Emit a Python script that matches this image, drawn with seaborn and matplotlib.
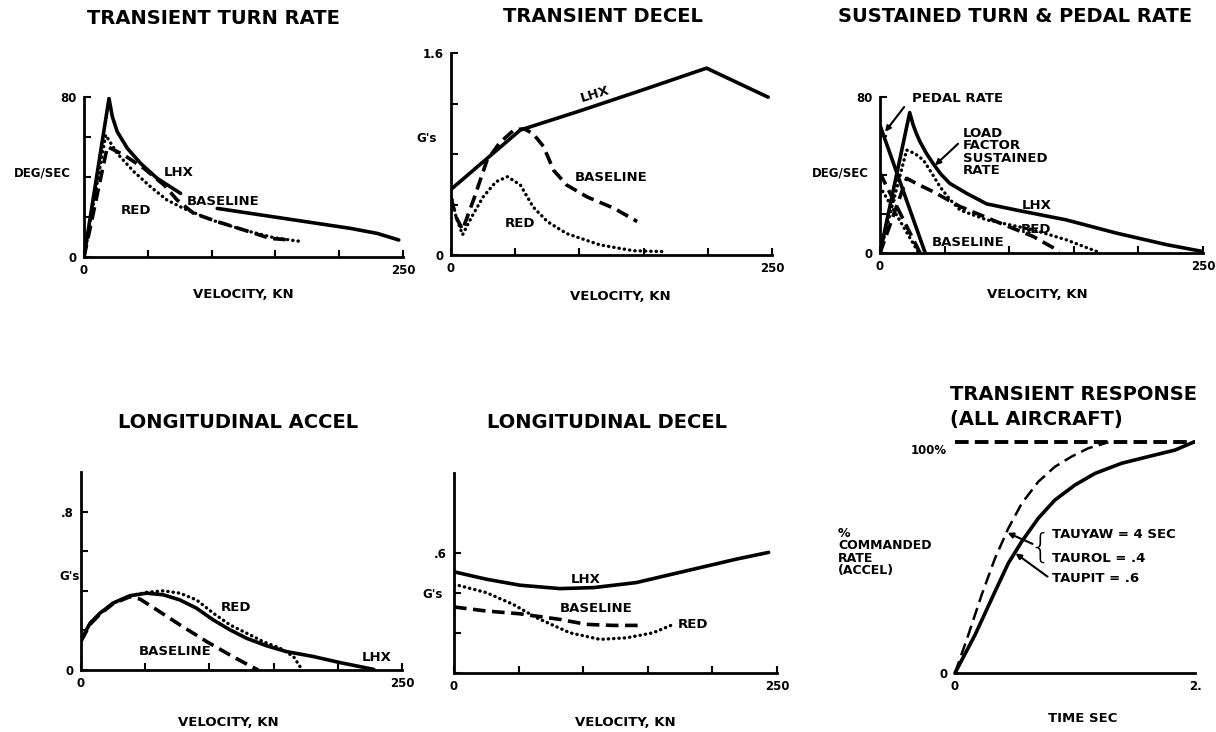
import numpy as np
import matplotlib
matplotlib.use("Agg")
import matplotlib.pyplot as plt
import seaborn as sns

sns.set_theme(style="white")
plt.rcParams['font.family'] = ['DejaVu Sans']
plt.rcParams['font.weight'] = 'bold'
plt.rcParams['text.color'] = 'black'
plt.rcParams['xtick.color'] = 'black'
plt.rcParams['ytick.color'] = 'black'

W, H = 1216, 732

# ---- data ----
# transient turn rate (deg/sec vs knots)
ttr_lhx_x = [0, 19.6, 22.2, 26, 34, 44.4, 57.4, 75.7]
ttr_lhx_y = [0, 79.3, 70.2, 62.7, 54.3, 46.8, 39.3, 31.8]
ttr_lhx2_x = [104.4, 130.5, 156.7, 182.8, 208.9, 229.8, 246.7]
ttr_lhx2_y = [24.3, 21.8, 19.3, 16.8, 14.3, 11.8, 8.5]
ttr_base_x = [0, 18.3, 31.3, 47, 62.7, 73, 86, 104.4, 125.3, 146, 162]
ttr_base_y = [0, 55.2, 51, 44.3, 36, 28.5, 21.8, 17.7, 13.5, 9.3, 8.5]
ttr_red_x = [0, 17, 26, 39, 52, 65, 78, 100, 125, 150, 171]
ttr_red_y = [0, 61, 51.8, 42.7, 35.2, 28.5, 24.3, 18.5, 13.5, 9.5, 7.7]

# transient decel (G's vs knots)
td_lhx_x = [0, 54, 100, 150, 199, 247]
td_lhx_y = [0.52, 0.99, 1.14, 1.31, 1.48, 1.25]
td_base_x = [0, 4, 9, 18, 28, 38, 49, 57, 64, 72, 80, 90, 106, 127, 145]
td_base_y = [0.45, 0.3, 0.2, 0.45, 0.75, 0.89, 0.99, 1.0, 0.96, 0.86, 0.67, 0.555, 0.46, 0.37, 0.265]
td_red_x = [0, 4, 9, 16, 25, 35, 44, 54, 64, 75, 90, 116, 142, 168]
td_red_y = [0.48, 0.3, 0.16, 0.3, 0.46, 0.58, 0.62, 0.555, 0.38, 0.265, 0.17, 0.08, 0.034, 0.026]

# sustained turn & pedal rate
st_pedal_lhx_x = [0, 35]
st_pedal_lhx_y = [65.5, 0]
st_pedal_base_x = [0, 31]
st_pedal_base_y = [41, 0]
st_pedal_red_x = [0, 30]
st_pedal_red_y = [34, 0]
st_lhx_x = [0, 23, 25.5, 28, 31, 36, 41, 47, 54, 67, 82.5, 105.7, 144, 183, 221.6, 248.7]
st_lhx_y = [0, 72, 66, 61.5, 57, 51, 46, 40.5, 35.7, 30.6, 25.2, 22, 17, 10.2, 4.3, 0.9]
st_red_x = [0, 20.6, 27, 33.5, 40, 46.4, 54, 62, 82.5, 100, 118.5, 144, 167.5]
st_red_y = [0, 52.8, 51, 47.7, 41, 34, 27.5, 22, 17, 14.5, 11.9, 6.8, 0.85]
st_base_x = [0, 20.6, 30, 41, 62, 93, 118.5, 139]
st_base_y = [0, 38.3, 35, 31.5, 23.8, 15.3, 8.5, 0.85]

# longitudinal accel
la_lhx_x = [0, 7, 14.8, 25, 38, 51, 64, 77, 90, 103, 116, 129, 144.7, 160, 181, 202, 220, 228]
la_lhx_y = [0.15, 0.236, 0.287, 0.338, 0.375, 0.388, 0.38, 0.354, 0.312, 0.253, 0.203, 0.16,
            0.122, 0.093, 0.068, 0.037, 0.0135, 0.003]
la_red_x = [0, 7, 14.8, 25, 38, 51, 64, 77, 90, 103, 116, 129, 142, 155, 165.5, 172]
la_red_y = [0.15, 0.236, 0.287, 0.338, 0.375, 0.392, 0.4, 0.388, 0.354, 0.287, 0.228, 0.186,
            0.143, 0.11, 0.068, 0.003]
la_base_x = [0, 7, 14.8, 25, 38, 46, 59, 77, 98, 116, 129, 138]
la_base_y = [0.145, 0.23, 0.282, 0.335, 0.37, 0.358, 0.304, 0.228, 0.143, 0.076, 0.03, 0.0]

# longitudinal decel
ld_lhx_x = [0, 25, 51, 82, 108, 141, 180, 219, 243.5]
ld_lhx_y = [0.506, 0.469, 0.439, 0.422, 0.427, 0.452, 0.511, 0.57, 0.603]
ld_base_x = [0, 25, 51, 82, 102.6, 123, 145]
ld_base_y = [0.33, 0.31, 0.296, 0.268, 0.243, 0.238, 0.238]
ld_red_x = [0, 25, 45.8, 63.9, 89.7, 113, 133.7, 154, 169.8]
ld_red_y = [0.444, 0.402, 0.343, 0.276, 0.201, 0.168, 0.176, 0.201, 0.243]

# transient response (% commanded vs sec)
tr_fast_x = [0, 0.111, 0.222, 0.333, 0.444, 0.556, 0.694, 0.833, 0.972, 1.111, 1.278]
tr_fast_y = [0, 16.5, 33.8, 49.6, 62.6, 73.4, 82.8, 89.3, 93.7, 97.3, 99.9]
tr_slow_x = [0, 0.167, 0.333, 0.444, 0.556, 0.694, 0.833, 1.0, 1.167, 1.389, 1.667, 1.833, 1.986]
tr_slow_y = [0, 16.5, 35.2, 47.5, 56.9, 67, 74.9, 81.4, 86.4, 90.8, 94.4, 96.5, 99.9]
tr_cmd_x = [0, 2]
tr_cmd_y = [100, 100]

fig = plt.figure(figsize=(W / 100, H / 100), dpi=100)

SOLID = dict(color='black', lw=2.6, linestyle='-')
DASH = dict(color='black', lw=2.6, linestyle=(0, (3.5, 1.8)))
DOT = dict(color='black', lw=2.4, linestyle=(0, (0.1, 1.5)), dash_capstyle='round')


def make_ax(l, r, t, b):
    return fig.add_axes([l / W, 1 - b / H, (r - l) / W, (b - t) / H])


def ftext(x, y, s, size=8, **kw):
    kw.setdefault('ha', 'center')
    kw.setdefault('va', 'center')
    fig.text(x / W, 1 - y / H, s, fontsize=size, fontweight='bold', **kw)


def line(ax, xs, ys, st):
    sns.lineplot(x=xs, y=ys, ax=ax, sort=False, estimator=None, **st)


def label(ax, x, y, s, **kw):
    ax.text(x, y, s, fontsize=9.5, fontweight='bold', ha='center', va='center', **kw)


def style_ax(ax, xmax, ymax, yticks, ylabels):
    ax.set_facecolor('none')
    for s in ['top', 'right']:
        ax.spines[s].set_visible(False)
    for s in ['left', 'bottom']:
        ax.spines[s].set_linewidth(2)
        ax.spines[s].set_color('black')
    ax.set_xlim(0, xmax)
    ax.set_ylim(0, ymax)
    ax.set_xticks(np.linspace(0, xmax, 6))
    ax.set_xticklabels(['0', '', '', '', '', str(xmax)])
    ax.set_yticks(yticks)
    ax.set_yticklabels(ylabels)
    ax.tick_params(bottom=True, left=True, direction='in', length=5, width=1.5,
                   labelsize=8.5, pad=5)
    ax.grid(False)


TITLE = 14
AXL = 9.5
YL = 8.5

# ---- panel 1 ----
ax1 = make_ax(84, 403, 97, 257)
line(ax1, ttr_lhx_x, ttr_lhx_y, SOLID)
line(ax1, ttr_lhx2_x, ttr_lhx2_y, SOLID)
line(ax1, ttr_base_x, ttr_base_y, DASH)
line(ax1, ttr_red_x, ttr_red_y, DOT)
style_ax(ax1, 250, 80, [0, 20, 40, 60, 80], ['0', '', '', '', '80'])
label(ax1, 74, 42, 'LHX')
label(ax1, 109, 27.6, 'BASELINE')
label(ax1, 41, 23, 'RED')
ftext(213, 18, 'TRANSIENT TURN RATE', size=TITLE)
ftext(42, 173, 'DEG/SEC', size=YL)
ftext(243, 295, 'VELOCITY, KN', size=AXL)

# ---- panel 2 ----
ax2 = make_ax(451, 772, 53, 255)
line(ax2, td_lhx_x, td_lhx_y, SOLID)
line(ax2, td_base_x, td_base_y, DASH)
line(ax2, td_red_x, td_red_y, DOT)
style_ax(ax2, 250, 1.6, [0, 0.4, 0.8, 1.2, 1.6], ['0', '', '', '', '1.6'])
label(ax2, 112, 1.27, 'LHX', rotation=17)
label(ax2, 125, 0.61, 'BASELINE')
label(ax2, 54, 0.25, 'RED')
ftext(603, 17, 'TRANSIENT DECEL', size=TITLE)
ftext(427, 138, "G's", size=YL)
ftext(620, 296, 'VELOCITY, KN', size=AXL)

# ---- panel 3 ----
ax3 = make_ax(880, 1203, 97, 253)
line(ax3, st_pedal_lhx_x, st_pedal_lhx_y, SOLID)
line(ax3, st_pedal_base_x, st_pedal_base_y, DASH)
line(ax3, st_pedal_red_x, st_pedal_red_y, DOT)
line(ax3, st_lhx_x, st_lhx_y, SOLID)
line(ax3, st_base_x, st_base_y, DASH)
line(ax3, st_red_x, st_red_y, DOT)
style_ax(ax3, 250, 80, [0, 20, 40, 60, 80], ['0', '', '', '', '80'])
ax3.annotate('', xy=(2.6, 61), xytext=(20, 76),
             arrowprops=dict(arrowstyle='-|>', color='black', lw=1.5, mutation_scale=8))
ax3.annotate('', xy=(41, 44), xytext=(62, 57),
             arrowprops=dict(arrowstyle='-|>', color='black', lw=1.5, mutation_scale=8))
label(ax3, 121, 24.5, 'LHX')
label(ax3, 121, 12.3, 'RED')
label(ax3, 68, 5.5, 'BASELINE')
ftext(958, 98, 'PEDAL RATE', size=AXL)
ftext(963, 152, 'LOAD\nFACTOR\nSUSTAINED\nRATE', size=AXL, ha='left', linespacing=0.95)
ftext(1015, 17, 'SUSTAINED TURN & PEDAL RATE', size=TITLE)
ftext(840, 173, 'DEG/SEC', size=YL)
ftext(1037, 295, 'VELOCITY, KN', size=AXL)

# ---- panel 4 ----
ax4 = make_ax(81, 402, 472, 670)
line(ax4, la_lhx_x, la_lhx_y, SOLID)
line(ax4, la_red_x, la_red_y, DOT)
line(ax4, la_base_x, la_base_y, DASH)
style_ax(ax4, 250, 1.0, [0, 0.2, 0.4, 0.6, 0.8], ['0', '', '', '', '.8'])
label(ax4, 121, 0.315, 'RED')
label(ax4, 73.5, 0.093, 'BASELINE')
label(ax4, 230, 0.064, 'LHX')
ftext(238, 423, 'LONGITUDINAL ACCEL', size=TITLE)
ftext(70, 577, "G's", size=YL)
ftext(228, 722, 'VELOCITY, KN', size=AXL)

# ---- panel 5 ----
ax5 = make_ax(454, 777, 473, 673)
line(ax5, ld_lhx_x, ld_lhx_y, SOLID)
line(ax5, ld_base_x, ld_base_y, DASH)
line(ax5, ld_red_x, ld_red_y, DOT)
style_ax(ax5, 250, 1.0, [0, 0.2, 0.4, 0.6], ['', '', '', '.6'])
label(ax5, 102, 0.466, 'LHX')
label(ax5, 110, 0.323, 'BASELINE')
label(ax5, 185, 0.24, 'RED')
ftext(607, 423, 'LONGITUDINAL DECEL', size=TITLE)
ftext(433, 595, "G's", size=YL)
ftext(625, 722, 'VELOCITY, KN', size=AXL)

# ---- panel 6 ----
ax6 = make_ax(955, 1195, 442, 673)
line(ax6, tr_cmd_x, tr_cmd_y, dict(color='black', lw=2.8, linestyle=(0, (3.5, 1.6))))
line(ax6, tr_fast_x, tr_fast_y, dict(color='black', lw=1.8, linestyle=(0, (5, 2.5))))
line(ax6, tr_slow_x, tr_slow_y, SOLID)
ax6.set_facecolor('none')
for s in ['top', 'right', 'left']:
    ax6.spines[s].set_visible(False)
ax6.spines['bottom'].set_linewidth(2)
ax6.spines['bottom'].set_color('black')
ax6.set_xlim(0, 2)
ax6.set_ylim(0, 100)
ax6.set_xticks([0, 2])
ax6.set_xticklabels(['0', '2.'])
ax6.set_yticks([0])
ax6.set_yticklabels(['0'])
ax6.tick_params(length=0, labelsize=8.5, pad=5)
ax6.grid(False)
for ln in ax6.lines:
    ln.set_clip_on(False)
ax6.annotate('', xy=(0.417, 61.2), xytext=(0.667, 55.4),
             arrowprops=dict(arrowstyle='-|>', color='black', lw=1.5, mutation_scale=8))
ax6.annotate('', xy=(0.486, 52.5), xytext=(0.79, 41),
             arrowprops=dict(arrowstyle='-|>', color='black', lw=1.5, mutation_scale=8))
fig.text(1040 / W, 1 - 548 / H, '{', fontsize=24, fontweight='light', ha='center', va='center')
ftext(1052, 535, 'TAUYAW = 4 SEC', size=9.5, ha='left')
ftext(1052, 558, 'TAUROL = .4', size=9.5, ha='left')
ftext(1052, 579, 'TAUPIT = .6', size=9.5, ha='left')
ftext(947, 450, '100%', size=YL, ha='right')
ftext(838, 552, '%\nCOMMANDED\nRATE\n(ACCEL)', size=9, ha='left', linespacing=0.95)
ftext(950, 395, 'TRANSIENT RESPONSE', size=TITLE, ha='left')
ftext(950, 420, '(ALL AIRCRAFT)', size=TITLE, ha='left')
ftext(1083, 719, 'TIME SEC', size=AXL)

fig.savefig('out.png', dpi=100)
